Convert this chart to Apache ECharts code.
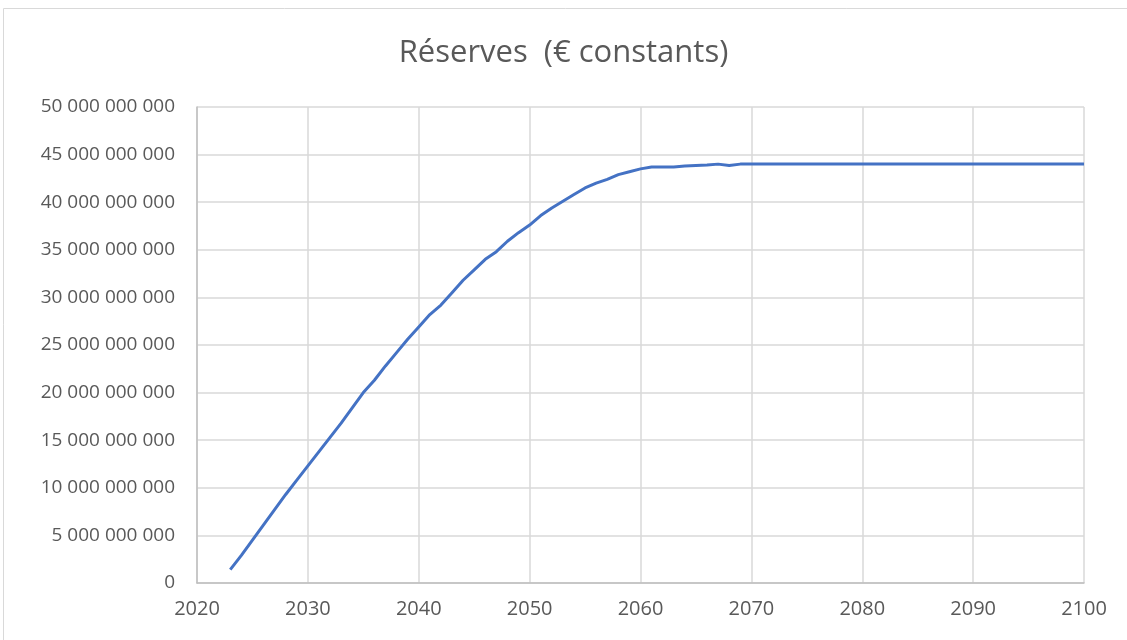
<!DOCTYPE html>
<html>
<head>
<meta charset="utf-8">
<title>Réserves (€ constants)</title>
<script src="https://cdn.jsdelivr.net/npm/echarts@6/dist/echarts.min.js"></script>
<style>
  html, body { margin: 0; padding: 0; background: #fff; }
  #chart { width: 1127px; height: 640px; }
</style>
</head>
<body>
<div id="chart"></div>
<script>
// years and reserves in milliards of constant euros
const years = []
for (let y = 2023; y <= 2100; y++) years.push(y)

const reservesBn = [
  1.4, 2.9, 4.5, 6.1, 7.7, 9.3, 10.8, 12.3, 13.8, 15.3,
  16.8, 18.4, 20.0, 21.3, 22.8, 24.2, 25.6, 26.9, 28.2, 29.2,
  30.5, 31.8, 32.9, 34.0, 34.8, 35.9, 36.8, 37.6, 38.6, 39.4,
  40.1, 40.8, 41.5, 42.0, 42.4, 42.9, 43.2, 43.5, 43.7, 43.7,
  43.7, 43.8, 43.85, 43.9, 44.0, 43.85, 44.0
]
// flat from 2070 to 2100
while (reservesBn.length < years.length) reservesBn.push(44.0)

const yMin = 0
const yMax = 50000000000
const yStep = 5000000000
const xMin = 2020
const xMax = 2100
const xStep = 10

const textColor = '#595959'
const fmtSpaces = v => String(Math.round(v)).replace(/\B(?=(\d{3})+(?!\d))/g, ' ')

const chart = echarts.init(document.getElementById('chart'))
chart.setOption({
  animation: false,
  title: {
    text: 'Réserves  (€ constants)',
    left: 'center',
    top: 33,
    textStyle: {
      fontFamily: 'Open Sans',
      fontWeight: 'normal',
      fontSize: 31,
      color: textColor
    }
  },
  graphic: [{
    type: 'rect',
    shape: { x: 3.5, y: 8.5, width: 1200, height: 700 },
    style: { fill: 'none', stroke: '#d9d9d9', lineWidth: 1 },
    silent: true
  }],
  grid: {
    left: 197,
    right: 43,
    top: 107,
    bottom: 57
  },
  xAxis: {
    type: 'value',
    min: xMin,
    max: xMax,
    interval: xStep,
    axisLine: { lineStyle: { color: '#bfbfbf', width: 1.5 } },
    axisTick: { show: false },
    axisLabel: {
      formatter: v => String(v),
      color: textColor,
      fontFamily: 'Open Sans',
      fontSize: 20,
      margin: 16
    },
    splitLine: { show: true, lineStyle: { color: '#d9d9d9', width: 1.5 } }
  },
  yAxis: {
    type: 'value',
    min: yMin,
    max: yMax,
    interval: yStep,
    axisLine: { show: true, lineStyle: { color: '#bfbfbf', width: 1.5 } },
    axisTick: { show: false },
    axisLabel: {
      formatter: fmtSpaces,
      color: textColor,
      fontFamily: 'Open Sans',
      fontSize: 19,
      margin: 22
    },
    splitLine: { lineStyle: { color: '#d9d9d9', width: 1.5 } }
  },
  series: [{
    name: 'Réserves',
    type: 'line',
    data: years.map((y, i) => [y, reservesBn[i] * 1e9]),
    showSymbol: false,
    lineStyle: { color: '#4472C4', width: 3 },
    itemStyle: { color: '#4472C4' }
  }]
})
</script>
</body>
</html>
